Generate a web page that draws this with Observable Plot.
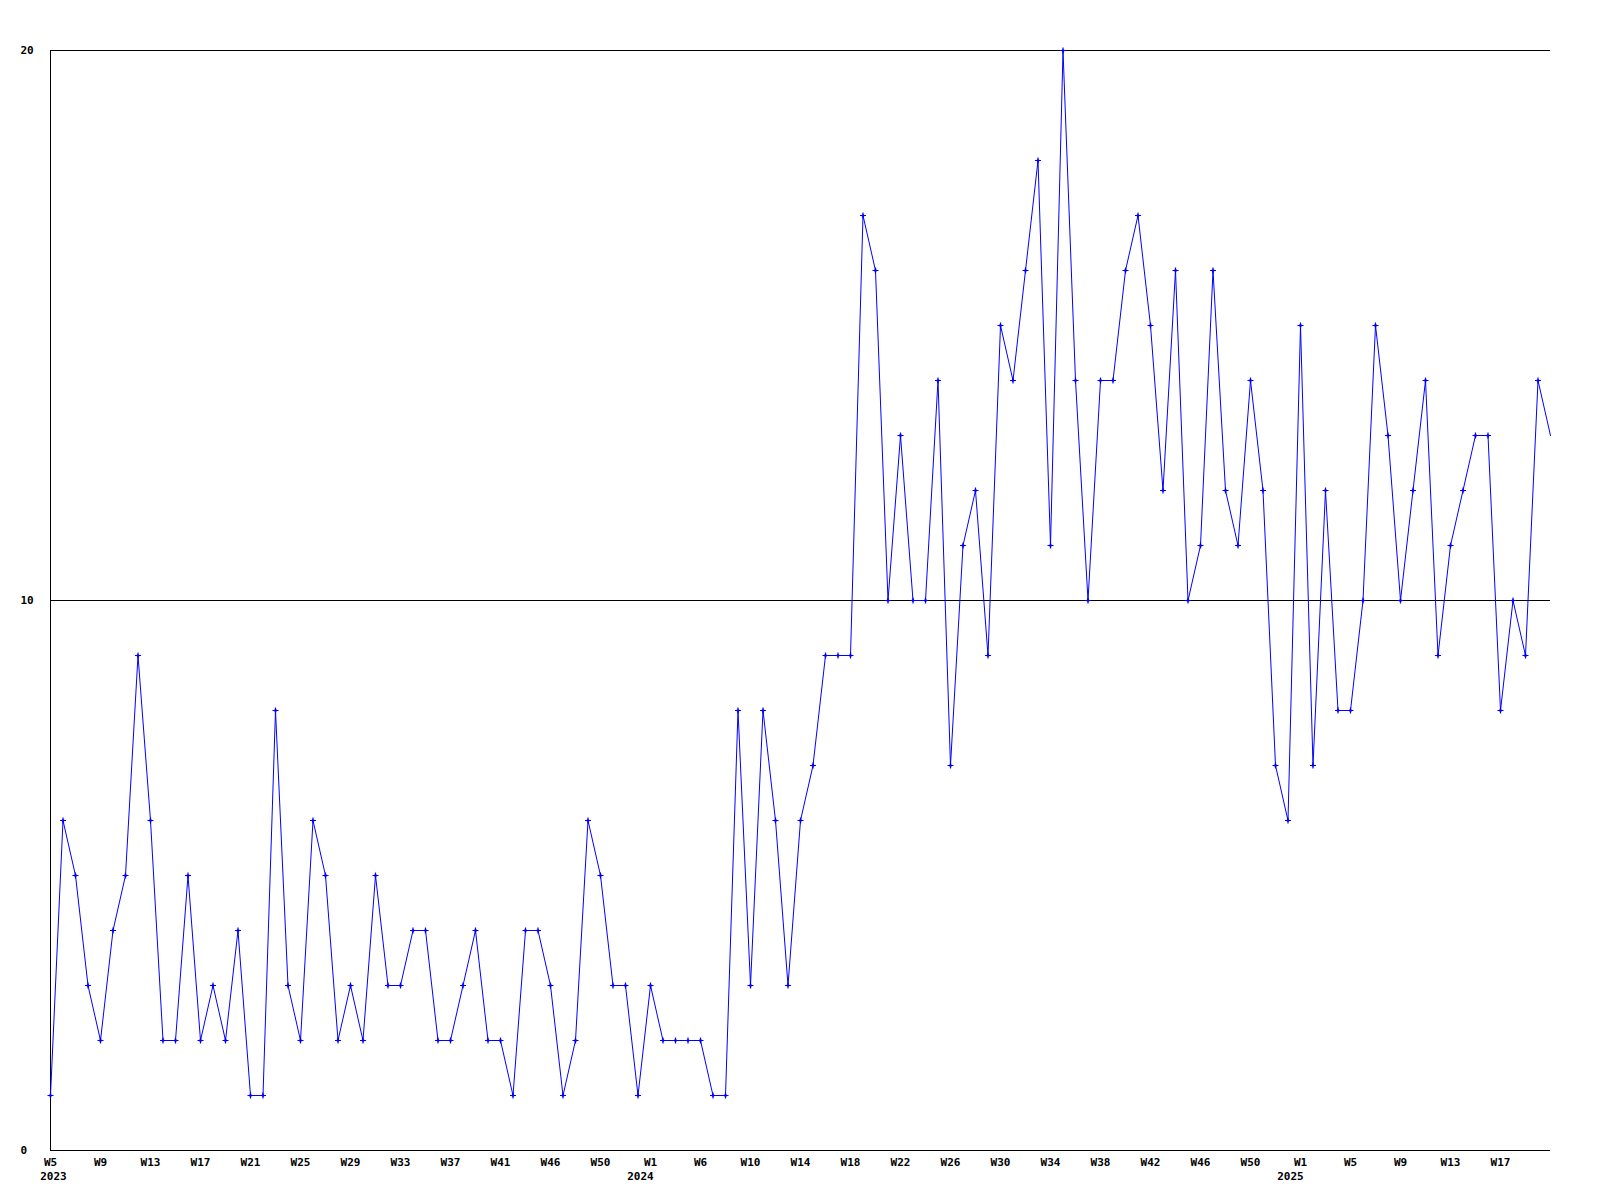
<!DOCTYPE html>
<html><head><meta charset="utf-8">
<script src="https://cdn.jsdelivr.net/npm/d3@7"></script>
<script src="https://cdn.jsdelivr.net/npm/@observablehq/plot@0.6"></script>
<style>body{margin:0;background:#fff}</style>
</head><body><div id="chart"></div>
<script>
// weekly values, W5 2023 .. W20 2025 (last point is the open, unmarked end)
const values = [
  1,6,5,3,2,4,5,9,6,2, 2,5,2,3,2,4,1,1,8,3,
  2,6,5,2,3,2,5,3,3,4, 4,2,2,3,4,2,2,1,4,4,
  3,1,2,6,5,3,3,1,3,2, 2,2,2,1,1,8,3,8,6,3,
  6,7,9,9,9,17,16,10,13,10, 10,14,7,11,12,9,15,14,16,18,
  11,20,14,10,14,14,16,17,15,12, 16,10,11,16,12,11,14,12,7,6,
  15,7,12,8,8,10,15,13,10,12, 14,9,11,12,13,13,8,10,9,14,
  13
];
const weekLabels = ["W5","W9","W13","W17","W21","W25","W29","W33","W37","W41","W46","W50",
  "W1","W6","W10","W14","W18","W22","W26","W30","W34","W38","W42","W46","W50",
  "W1","W5","W9","W13","W17"];
const weekTickIdx = weekLabels.map((_, k) => k * 4);
const years = ["2023","2024","2025"];
const yearIdx = [0, 48, 100];
const yTicks = [0, 10, 20];

const data = values.map((v, i) => ({i, v}));
const yearData = years.map((t, k) => ({t, i: yearIdx[k]}));
const marked = data.slice(0, -1);

const chart = Plot.plot({
  width: 1600, height: 1200,
  marginLeft: 50, marginRight: 50, marginTop: 50, marginBottom: 50,
  x: {domain: [0, values.length - 1]},
  y: {domain: [0, 20]},
  style: {fontFamily: "DejaVu Sans Mono", fontSize: "11px", fontWeight: "bold", background: "#fff", color: "#000"},
  marks: [
    Plot.ruleY(yTicks, {stroke: "#000", strokeWidth: 1}),
    Plot.ruleX([0], {y1: 0, y2: 20, stroke: "#000", strokeWidth: 1}),
    Plot.axisY({ticks: yTicks, tickSize: 0, tickPadding: 30, textAnchor: "start", label: null, fill: "#000"}),
    Plot.axisX({ticks: weekTickIdx, tickFormat: d => weekLabels[weekTickIdx.indexOf(d)], tickSize: 0, tickPadding: 8, label: null, fill: "#000"}),
    Plot.text(yearData.slice(0, 1), {x: "i", text: "t", frameAnchor: "bottom", dy: 29, dx: 3, fill: "#000"}),
    Plot.text(yearData.slice(1), {x: "i", text: "t", frameAnchor: "bottom", dy: 29, dx: -10, fill: "#000"}),
    Plot.line(data, {x: "i", y: "v", stroke: "#0000ff", strokeWidth: 1}),
    Plot.dot(marked, {x: "i", y: "v", symbol: "plus", r: 2.1, stroke: "#0000ff", strokeWidth: 1.2, fill: "none"}),
    Plot.dot(marked, {x: "i", y: "v", symbol: "square", r: 1.3, fill: "#0000ff", stroke: "none"})
  ]
});
document.getElementById("chart").append(chart);
</script>
</body></html>
